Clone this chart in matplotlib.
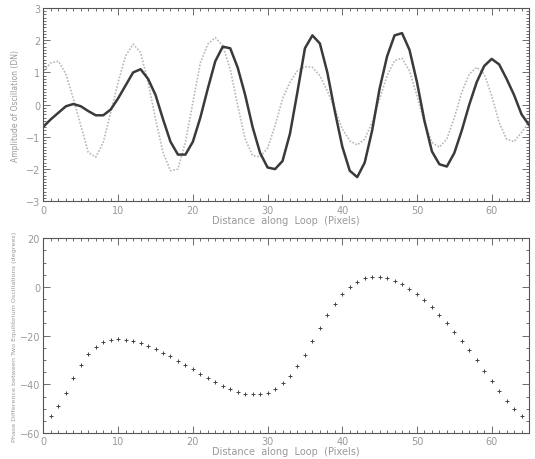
import numpy as np
import matplotlib
matplotlib.use("Agg")
import matplotlib.pyplot as plt
from matplotlib.ticker import MultipleLocator

# top panel: amplitude of the two oscillations along the loop
pix = np.arange(0, 66)
amp_solid = [-0.68, -0.45, -0.25, -0.05, 0.02, -0.05, -0.2, -0.33, -0.33, -0.15,
             0.2, 0.6, 1.0, 1.1, 0.8, 0.3, -0.45, -1.15, -1.55, -1.55,
             -1.15, -0.4, 0.5, 1.35, 1.8, 1.75, 1.15, 0.3, -0.7, -1.5,
             -1.95, -2.0, -1.75, -0.9, 0.4, 1.75, 2.15, 1.9, 1.0, -0.2,
             -1.3, -2.05, -2.25, -1.8, -0.8, 0.5, 1.5, 2.15, 2.22, 1.7,
             0.7, -0.5, -1.45, -1.85, -1.92, -1.5, -0.8, 0.0, 0.7, 1.2,
             1.42, 1.25, 0.8, 0.3, -0.3, -0.63]
amp_dotted = [1.05, 1.3, 1.35, 0.95, 0.18, -0.65, -1.48, -1.63, -1.17, -0.24,
              0.7, 1.52, 1.88, 1.62, 0.7, -0.45, -1.48, -2.05, -2.0, -1.17,
              0.07, 1.3, 1.88, 2.08, 1.83, 1.1, -0.03, -1.07, -1.58, -1.62,
              -1.35, -0.65, 0.18, 0.7, 1.05, 1.18, 1.16, 0.9, 0.43, -0.13,
              -0.75, -1.12, -1.25, -1.07, -0.55, 0.18, 0.9, 1.37, 1.44, 1.05,
              0.28, -0.55, -1.17, -1.32, -1.07, -0.4, 0.38, 0.95, 1.16, 0.95,
              0.28, -0.55, -1.07, -1.15, -0.86, -0.55]

# bottom panel: phase difference
pix_phase = np.arange(1, 65)
phase = [-52.9, -49.0, -43.6, -37.5, -31.9, -27.7, -24.8, -22.7, -21.8, -21.4,
         -21.6, -22.3, -23.2, -24.1, -25.5, -27.0, -28.5, -30.3, -32.1, -33.8,
         -35.6, -37.4, -38.9, -40.5, -42.1, -43.2, -43.8, -44.1, -44.1, -43.5,
         -42.1, -39.6, -36.6, -32.5, -27.8, -22.3, -16.8, -11.6, -7.0, -3.0,
         -0.1, 2.2, 3.6, 4.1, 4.1, 3.6, 2.6, 1.2, -0.7, -2.9,
         -5.3, -8.4, -11.4, -14.8, -18.4, -22.2, -26.0, -30.1, -34.4, -38.6,
         -42.9, -46.8, -50.1, -52.9]

xlabel = 'Distance  along  Loop  (Pixels)'
tick_col = '#999999'
axis_col = '#555555'

fig = plt.figure(figsize=(5.35, 4.6), dpi=100)
ax1 = fig.add_axes([0.0813, 0.5602, 0.9075, 0.4202])
ax2 = fig.add_axes([0.0813, 0.0565, 0.9075, 0.4233])

ax1.plot(pix, amp_dotted, color='#b8b8b8', lw=1.2, ls=(0, (1, 1)))
ax1.plot(pix, amp_solid, color='#3a3a3a', lw=1.8)
ax1.set_xlim(0, 65)
ax1.set_ylim(-3, 3)
ax1.yaxis.set_major_locator(MultipleLocator(1))
ax1.yaxis.set_minor_locator(MultipleLocator(0.1))
ax1.set_ylabel('Amplitude of Oscillation (DN)', fontsize=5.5, color=tick_col,
               labelpad=4)

ax2.plot(pix_phase, phase, ls='none', marker='+', ms=2.5, mew=0.7, color='#444444')
ax2.set_xlim(0, 65)
ax2.set_ylim(-60, 20)
ax2.yaxis.set_major_locator(MultipleLocator(20))
ax2.yaxis.set_minor_locator(MultipleLocator(5))
ax2.set_ylabel('Phase Difference between Two Equilibrium Oscillations (degrees)',
               fontsize=4.6, color=tick_col, labelpad=2)

for ax in (ax1, ax2):
    ax.xaxis.set_major_locator(MultipleLocator(10))
    ax.xaxis.set_minor_locator(MultipleLocator(1))
    ax.set_xlabel(xlabel, fontsize=7, color=tick_col, labelpad=0)
    ax.tick_params(which='both', direction='in', top=True, right=True,
                   color=axis_col, width=0.6, labelsize=7, labelcolor=tick_col, pad=2.5)
    ax.tick_params(which='major', length=5)
    ax.tick_params(which='minor', length=2.5)
    for s in ax.spines.values():
        s.set_color(axis_col)
        s.set_linewidth(0.8)

fig.savefig('out.png', dpi=100)
